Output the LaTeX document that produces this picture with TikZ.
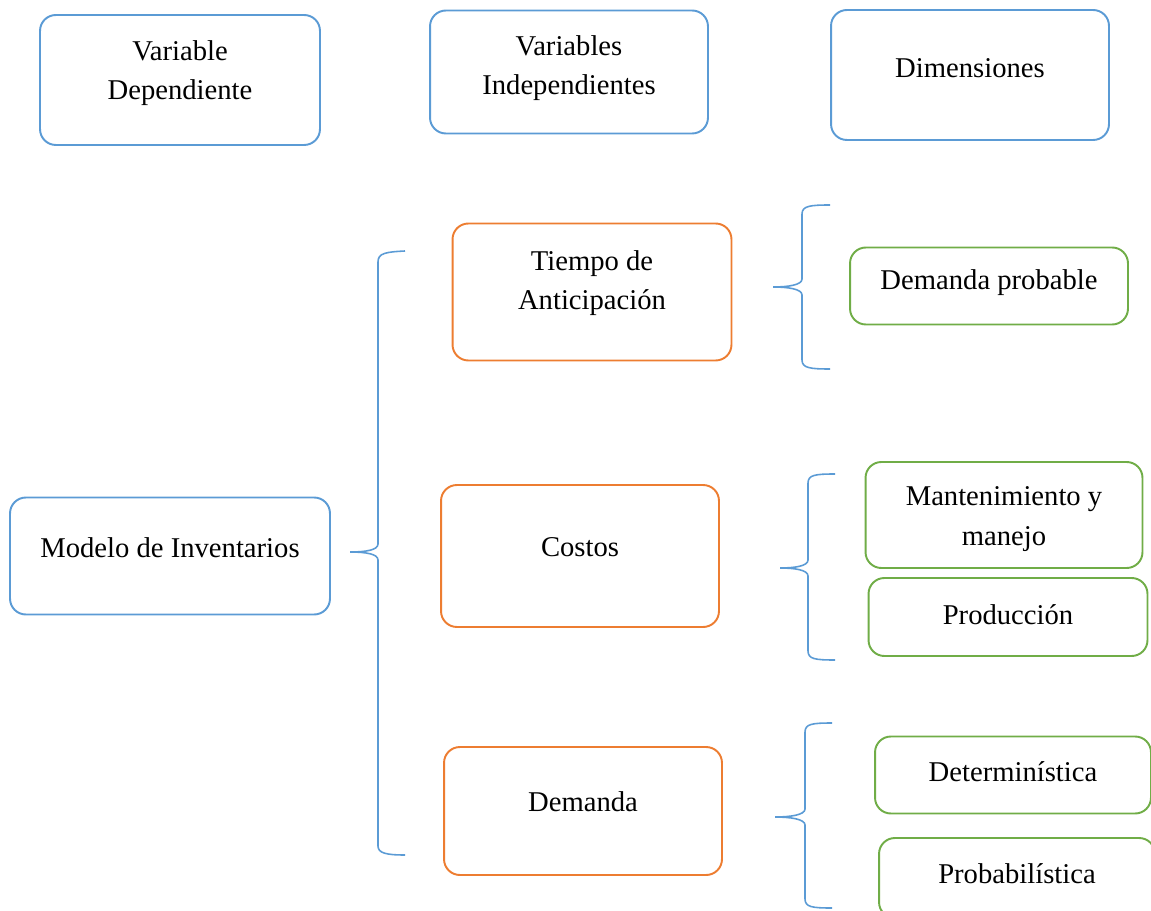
\documentclass[tikz,border=0pt]{standalone}
\usepackage{fontspec}
\setmainfont{Liberation Serif}
\usepackage{xcolor}
\usepackage{tikz}
\usetikzlibrary{positioning, calc}

\definecolor{azul}{RGB}{91,155,213}
\definecolor{naranja}{RGB}{237,125,49}
\definecolor{verde}{RGB}{112,173,71}

\begin{document}
\begin{tikzpicture}[
  x=0.02cm, y=-0.02cm,
  font=\fontsize{16.3}{22.5}\selectfont,
  box/.style={draw, rounded corners=9pt, line width=1.1pt, fill=white, inner sep=0pt},
  dep/.style={box, draw=azul},
  ind/.style={box, draw=naranja},
  dim/.style={box, draw=verde},
  txt/.style={align=center, inner sep=0pt},
  llave/.style={draw=azul, line width=0.9pt}
]
\useasboundingbox (0,0) rectangle (1151,911);
% encabezados
\node[dep, minimum width=5.6cm, minimum height=2.6cm] (hdep) at (180,80) {};
\node[dep, minimum width=5.56cm, minimum height=2.46cm] (hind) at (569,72) {};
\node[dep, minimum width=5.56cm, minimum height=2.6cm] (hdim) at (970,75) {};
\node[txt] (hdeptxt) at (180,73) {Variable\\Dependiente};
\node[txt] (hindtxt) at (569,68) {Variables\\Independientes};
\node[txt] (hdimtxt) at (970,68) {Dimensiones};
% variable dependiente
\node[dep, minimum width=6.4cm, minimum height=2.34cm] (mod) at (170,556) {};
\node[txt] (modtxt) at (170,548) {Modelo de Inventarios};
% variables independientes
\node[ind, minimum width=5.58cm, minimum height=2.74cm] (tie) at (592,292) {};
\node[ind, minimum width=5.56cm, minimum height=2.84cm] (cos) at (580,556) {};
\node[ind, minimum width=5.56cm, minimum height=2.56cm] (dem) at (583,811) {};
\node[txt] (tietxt) at (592,283) {Tiempo de\\Anticipación};
\node[txt] (costxt) at (580,547) {Costos};
\node[txt] (demtxt) at (583,802) {Demanda};
% dimensiones
\node[dim, minimum width=5.56cm, minimum height=1.54cm] (dpr) at (989,286) {};
\node[dim, minimum width=5.54cm, minimum height=2.12cm] (man) at (1004,515) {};
\node[dim, minimum width=5.58cm, minimum height=1.56cm] (pro) at (1008,617) {};
\node[dim, minimum width=5.52cm, minimum height=1.54cm] (det) at (1013,775) {};
\node[dim, minimum width=5.52cm, minimum height=1.6cm] (pba) at (1017,878) {};
\node[txt] (dprtxt) at (989,283) {Demanda probable};
\node[txt] (mantxt) at (1004,519) {Mantenimiento y\\manejo};
\node[txt] (protxt) at (1008,615) {Producción};
\node[txt] (dettxt) at (1013,772) {Determinística};
\node[txt] (pbatxt) at (1017,874) {Probabilística};
% llaves
\draw[llave] (405,251) .. controls (386,252) and (378,253) .. (378,262) -- (378,544)
  .. controls (378,550) and (366,552) .. (350,552) .. controls (366,552) and (378,554) .. (378,560)
  -- (378,846) .. controls (378,853) and (386,855) .. (405,855);
\draw[llave] (830,205) .. controls (810,205) and (802,206) .. (802,214) -- (802,279)
  .. controls (802,285) and (788,287) .. (773,287) .. controls (788,287) and (802,289) .. (802,295)
  -- (802,360) .. controls (802,368) and (810,369) .. (830,369);
\draw[llave] (835,474) .. controls (815,474) and (808,475) .. (808,483) -- (808,560)
  .. controls (808,566) and (795,568) .. (780,568) .. controls (795,568) and (808,570) .. (808,576)
  -- (808,651) .. controls (808,659) and (815,660) .. (835,660);
\draw[llave] (832,723) .. controls (812,723) and (805,724) .. (805,732) -- (805,809)
  .. controls (805,815) and (790,817) .. (775,817) .. controls (790,817) and (805,819) .. (805,825)
  -- (805,899) .. controls (805,907) and (812,908) .. (832,908);
\end{tikzpicture}
\end{document}
